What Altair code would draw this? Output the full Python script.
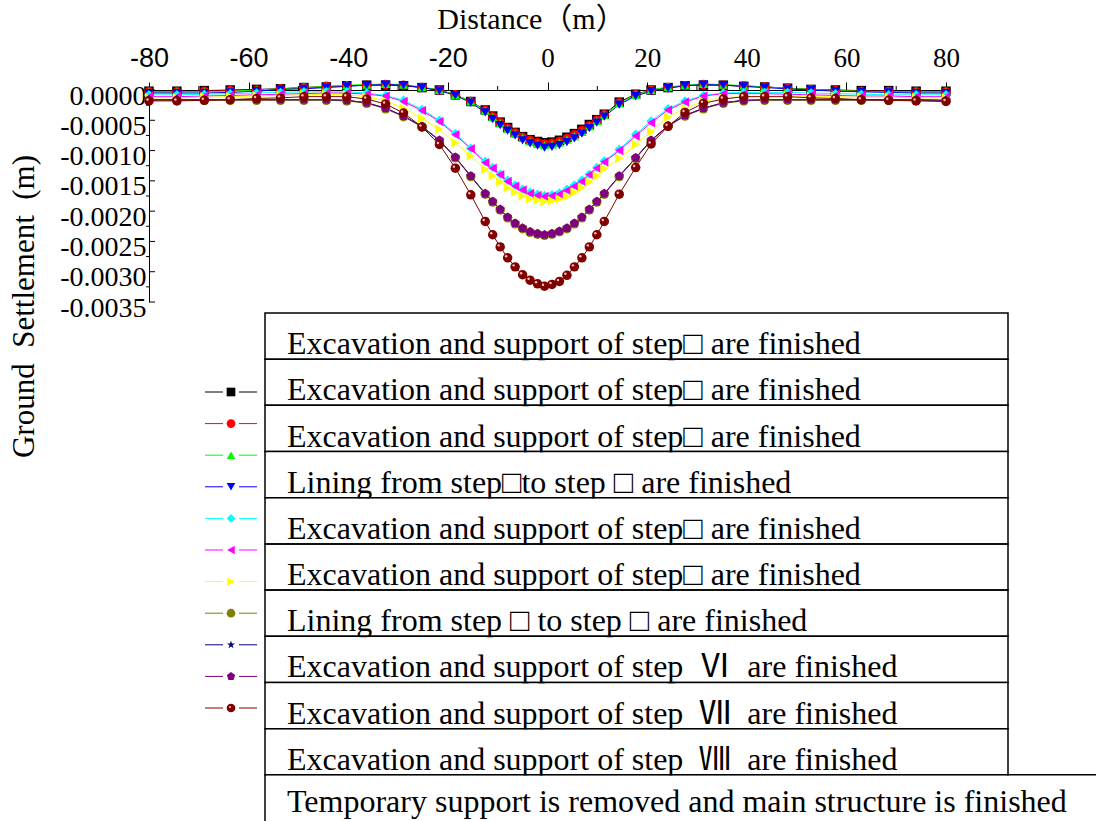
import altair as alt
import pandas as pd

# ---------------- data ----------------
DIST = [-80, -74.4, -68.9, -63.7, -58.4, -53.6, -48.9, -44.4, -40.3, -36.3, -32.5, -28.9, -25.2, -21.7, -18.5, -15.4,
        -12.5, -11.0, -9.5, -8.0, -6.5, -5.0, -3.5, -2.0, -0.6,
        0.9, 2.4, 3.9, 5.4, 6.9, 8.4, 9.9, 11.4,
        14.4, 17.7, 20.8, 24.2, 27.6, 31.3, 35.3, 39.4, 43.6, 48.2, 52.9, 57.8, 63.0, 68.5, 74.0, 80]

S01 = [-0.00002, -0.00002, -0.00001, 0.00000, 0.00001, 0.00002, 0.00004, 0.00005, 0.00007, 0.00008, 0.00008, 0.00007, 0.00004, 0.00000, -0.00008, -0.00019,
       -0.00033, -0.00043, -0.00053, -0.00062, -0.00070, -0.00077, -0.00082, -0.00085, -0.00087,
       -0.00086, -0.00083, -0.00078, -0.00072, -0.00065, -0.00057, -0.00049, -0.00040,
       -0.00020, -0.00007, 0.00000, 0.00004, 0.00007, 0.00008, 0.00008, 0.00006, 0.00005, 0.00003, 0.00001, 0.00000, -0.00001, -0.00001, -0.00002, -0.00002]
S02 = [-0.00003, -0.00003, -0.00002, -0.00001, 0.00000, 0.00002, 0.00004, 0.00006, 0.00007, 0.00008, 0.00009, 0.00008, 0.00004, 0.00000, -0.00008, -0.00019,
       -0.00034, -0.00044, -0.00054, -0.00063, -0.00071, -0.00078, -0.00083, -0.00087, -0.00089,
       -0.00088, -0.00085, -0.00080, -0.00074, -0.00067, -0.00059, -0.00050, -0.00041,
       -0.00021, -0.00008, 0.00000, 0.00004, 0.00007, 0.00009, 0.00008, 0.00007, 0.00005, 0.00003, 0.00001, -0.00001, -0.00002, -0.00002, -0.00003, -0.00003]
S03 = [-0.00003, -0.00003, -0.00003, -0.00002, 0.00000, 0.00002, 0.00004, 0.00006, 0.00008, 0.00009, 0.00010, 0.00009, 0.00005, 0.00000, -0.00008, -0.00019,
       -0.00034, -0.00045, -0.00055, -0.00064, -0.00072, -0.00079, -0.00085, -0.00089, -0.00091,
       -0.00090, -0.00087, -0.00082, -0.00076, -0.00069, -0.00060, -0.00051, -0.00041,
       -0.00022, -0.00008, 0.00000, 0.00005, 0.00008, 0.00010, 0.00009, 0.00007, 0.00005, 0.00003, 0.00001, -0.00001, -0.00002, -0.00003, -0.00003, -0.00003]
S04 = [-0.00005, -0.00005, -0.00005, -0.00004, -0.00002, 0.00001, 0.00002, 0.00004, 0.00006, 0.00008, 0.00009, 0.00008, 0.00004, -0.00001, -0.00009, -0.00021,
       -0.00037, -0.00048, -0.00058, -0.00067, -0.00075, -0.00083, -0.00088, -0.00092, -0.00095,
       -0.00094, -0.00091, -0.00086, -0.00080, -0.00072, -0.00063, -0.00054, -0.00044,
       -0.00024, -0.00010, -0.00002, 0.00003, 0.00007, 0.00009, 0.00008, 0.00006, 0.00004, 0.00002, 0.00000, -0.00002, -0.00003, -0.00004, -0.00005, -0.00005]
S05 = [-0.00008, -0.00008, -0.00007, -0.00006, -0.00005, -0.00004, -0.00003, -0.00003, -0.00003, -0.00005, -0.00009, -0.00017, -0.00032, -0.00050, -0.00072, -0.00096,
       -0.00118, -0.00128, -0.00139, -0.00149, -0.00157, -0.00164, -0.00169, -0.00172, -0.00174,
       -0.00173, -0.00170, -0.00164, -0.00157, -0.00149, -0.00139, -0.00128, -0.00117,
       -0.00098, -0.00073, -0.00051, -0.00031, -0.00018, -0.00009, -0.00005, -0.00004, -0.00004, -0.00004, -0.00005, -0.00006, -0.00007, -0.00008, -0.00008, -0.00008]
S06 = [-0.00011, -0.00011, -0.00010, -0.00009, -0.00008, -0.00007, -0.00006, -0.00005, -0.00005, -0.00007, -0.00010, -0.00019, -0.00034, -0.00052, -0.00074, -0.00097,
       -0.00120, -0.00129, -0.00140, -0.00151, -0.00159, -0.00165, -0.00171, -0.00174, -0.00176,
       -0.00175, -0.00172, -0.00166, -0.00159, -0.00151, -0.00140, -0.00129, -0.00119,
       -0.00100, -0.00076, -0.00054, -0.00033, -0.00020, -0.00010, -0.00006, -0.00006, -0.00006, -0.00007, -0.00008, -0.00009, -0.00010, -0.00010, -0.00011, -0.00011]
S07 = [-0.00013, -0.00013, -0.00012, -0.00011, -0.00010, -0.00009, -0.00008, -0.00007, -0.00008, -0.00011, -0.00018, -0.00030, -0.00047, -0.00065, -0.00087, -0.00109,
       -0.00131, -0.00142, -0.00152, -0.00162, -0.00169, -0.00175, -0.00180, -0.00182, -0.00184,
       -0.00183, -0.00180, -0.00176, -0.00169, -0.00161, -0.00152, -0.00142, -0.00130,
       -0.00113, -0.00090, -0.00069, -0.00045, -0.00030, -0.00019, -0.00013, -0.00011, -0.00010, -0.00010, -0.00011, -0.00011, -0.00012, -0.00012, -0.00013, -0.00013]
S08 = [-0.00017, -0.00017, -0.00017, -0.00017, -0.00017, -0.00017, -0.00017, -0.00017, -0.00018, -0.00022, -0.00031, -0.00044, -0.00061, -0.00084, -0.00112, -0.00143,
       -0.00172, -0.00185, -0.00198, -0.00211, -0.00221, -0.00229, -0.00235, -0.00238, -0.00240,
       -0.00238, -0.00234, -0.00229, -0.00221, -0.00211, -0.00198, -0.00185, -0.00172,
       -0.00143, -0.00113, -0.00084, -0.00060, -0.00043, -0.00031, -0.00022, -0.00018, -0.00017, -0.00017, -0.00017, -0.00017, -0.00017, -0.00017, -0.00017, -0.00018]
S09 = [-0.00016, -0.00016, -0.00016, -0.00016, -0.00016, -0.00016, -0.00016, -0.00016, -0.00017, -0.00021, -0.00030, -0.00043, -0.00060, -0.00083, -0.00111, -0.00142,
       -0.00171, -0.00184, -0.00197, -0.00210, -0.00220, -0.00228, -0.00234, -0.00237, -0.00239,
       -0.00237, -0.00233, -0.00228, -0.00220, -0.00210, -0.00197, -0.00184, -0.00171,
       -0.00142, -0.00112, -0.00083, -0.00059, -0.00042, -0.00030, -0.00021, -0.00017, -0.00016, -0.00016, -0.00016, -0.00016, -0.00016, -0.00016, -0.00016, -0.00017]
S10 = [-0.00016, -0.00016, -0.00016, -0.00016, -0.00016, -0.00016, -0.00016, -0.00016, -0.00017, -0.00021, -0.00030, -0.00043, -0.00060, -0.00083, -0.00111, -0.00142,
       -0.00171, -0.00184, -0.00197, -0.00210, -0.00220, -0.00228, -0.00234, -0.00237, -0.00239,
       -0.00237, -0.00233, -0.00228, -0.00220, -0.00210, -0.00197, -0.00184, -0.00171,
       -0.00142, -0.00112, -0.00083, -0.00059, -0.00042, -0.00030, -0.00021, -0.00017, -0.00016, -0.00016, -0.00016, -0.00016, -0.00016, -0.00016, -0.00016, -0.00017]
S11 = [-0.00018, -0.00018, -0.00017, -0.00016, -0.00014, -0.00013, -0.00011, -0.00011, -0.00011, -0.00015, -0.00023, -0.00038, -0.00061, -0.00090, -0.00129, -0.00173,
       -0.00217, -0.00239, -0.00259, -0.00277, -0.00292, -0.00305, -0.00314, -0.00320, -0.00324,
       -0.00321, -0.00316, -0.00306, -0.00292, -0.00277, -0.00259, -0.00239, -0.00217,
       -0.00172, -0.00128, -0.00089, -0.00060, -0.00037, -0.00022, -0.00015, -0.00011, -0.00011, -0.00011, -0.00013, -0.00014, -0.00016, -0.00017, -0.00018, -0.00019]

SERIES_KEYS = ["s01", "s02", "s03", "s04", "s05", "s06", "s07", "s08", "s09", "s10", "s11"]
SERIES_VALUES = [S01, S02, S03, S04, S05, S06, S07, S08, S09, S10, S11]

LEGEND_LABELS = [
    "Excavation and support of step□ are finished",
    "Excavation and support of step□ are finished",
    "Excavation and support of step□ are finished",
    "Lining from step□to step □ are finished",
    "Excavation and support of step□ are finished",
    "Excavation and support of step□ are finished",
    "Lining from step □ to step □ are finished",
    "Excavation and support of step\u00a0 Ⅵ\u00a0 are finished",
    "Excavation and support of step\u00a0 Ⅶ\u00a0 are finished",
    "Excavation and support of step\u00a0 Ⅷ\u00a0 are finished",
    "Temporary support is removed and main structure is finished",
]

X_MAJOR = [-80, -60, -40, -20, 0, 20, 40, 60, 80]
X_MINOR = [-70, -50, -30, -10, 10, 30, 50, 70]
Y_MAJOR = [0.0, -0.0005, -0.0010, -0.0015, -0.0020, -0.0025, -0.0030, -0.0035]
Y_MINOR = [-0.00025, -0.00075, -0.00125, -0.00175, -0.00225, -0.00275, -0.00325]

# ---------------- styles ----------------
COLORS = ["#000000", "#ff0000", "#00ff00", "#0000ff", "#00ffff", "#ff00ff",
          "#ffff00", "#808000", "#000080", "#800080", "#800000"]
STAR = "M0,-1L0.2245,-0.309L0.951,-0.309L0.363,0.118L0.588,0.809L0,0.382L-0.588,0.809L-0.363,0.118L-0.951,-0.309L-0.2245,-0.309Z"
PENTAGON = "M0,-1L0.951,-0.309L0.588,0.809L-0.588,0.809L-0.951,-0.309Z"
SHAPES = ["square", "circle", "triangle-up", "triangle-down", "diamond", "triangle-left",
          "triangle-right", "circle", STAR, PENTAGON, "circle"]
SERIF = "Liberation Serif, Noto Sans CJK SC"

rows = []
for key, vals in zip(SERIES_KEYS, SERIES_VALUES):
    for d, v in zip(DIST, vals):
        rows.append({"series": key, "d": d, "v": v})
df = pd.DataFrame(rows)

color_scale = alt.Scale(domain=SERIES_KEYS, range=COLORS)
shape_scale = alt.Scale(domain=SERIES_KEYS, range=SHAPES)
color_enc = alt.Color("series:N", scale=color_scale, legend=None)
shape_enc = alt.Shape("series:N", scale=shape_scale, legend=None)

x_axis = alt.Axis(
    orient="top", values=X_MAJOR, tickSize=8, tickColor="black", domainColor="black",
    labelExpr="(datum.value < 0 ? '-' : '') + abs(datum.value)",
    labelFont={"condition": {"test": "datum.value < 0", "value": "Liberation Sans"}, "value": "Liberation Serif"},
    labelFontSize=27, labelColor="black", labelPadding=10, labelFlush=False,
    title="Distance（m）", titleFont=SERIF, titleFontSize=30, titleFontWeight="normal",
    titleColor="black", titleX=382, titleY=-62, titleAlign="center", titleBaseline="alphabetic",
    grid=False,
)
y_axis = alt.Axis(
    values=Y_MAJOR, ticks=False, tickSize=0, domainColor="black",
    labelExpr="(datum.value < 0 ? '-' : '') + format(abs(datum.value), '.4f')",
    labelFont="Liberation Serif", labelFontSize=28, labelColor="black", labelPadding=3,
    labelOffset=6, labelFlush=False,
    title="Ground\u00a0 Settlement\u00a0 (m)", titleFont=SERIF, titleFontSize=31, titleFontWeight="normal",
    titleColor="black", titleAngle=270, titleX=-125, titleY=216, titleAlign="center",
    titleBaseline="middle", grid=False,
)
x_enc = alt.X("d:Q", scale=alt.Scale(domain=[-80, 80], nice=False, zero=False), axis=x_axis)
y_enc = alt.Y("v:Q", scale=alt.Scale(domain=[-0.0035, 0], nice=False, zero=False), axis=y_axis)

base = alt.Chart(df)
lines = base.mark_line(strokeWidth=1, clip=False).encode(x=x_enc, y=y_enc, color=color_enc)
points = base.mark_point(filled=True, opacity=1, size=90, clip=False).encode(
    x=x_enc, y=y_enc, color=color_enc, shape=shape_enc)
shine = base.transform_filter("datum.series === 's11'").mark_point(
    filled=True, shape="circle", size=6, color="#f0c0c0", opacity=1, xOffset=-1.5, yOffset=-1.5
).encode(x=x_enc, y=y_enc)

ymaj = alt.Chart(pd.DataFrame({"v": Y_MAJOR})).mark_rule(color="black", strokeWidth=1).encode(
    y=y_enc, x=alt.value(0), x2=alt.value(6))
ymin = alt.Chart(pd.DataFrame({"v": Y_MINOR})).mark_rule(color="black", strokeWidth=1).encode(
    y=y_enc, x=alt.value(-3), x2=alt.value(0))
xmin = alt.Chart(pd.DataFrame({"d": X_MINOR})).mark_rule(color="black", strokeWidth=1).encode(
    x=x_enc, y=alt.value(-4), y2=alt.value(0))

main = alt.layer(lines, points, shine, ymaj, ymin, xmin)

# ---------------- legend ----------------
leg_df = pd.DataFrame({"series": SERIES_KEYS, "row": list(range(len(SERIES_KEYS))), "label": LEGEND_LABELS})
leg = alt.Chart(leg_df)
sym_y = alt.Y("row:Q", scale=alt.Scale(domain=[0, 10], range=[302, 618], nice=False, zero=False), axis=None)
leg_l = leg.mark_rule(strokeWidth=1).encode(y=sym_y, x=alt.value(56), x2=alt.value(74), color=color_enc)
leg_r = leg.mark_rule(strokeWidth=1).encode(y=sym_y, x=alt.value(90), x2=alt.value(108), color=color_enc)
leg_s = leg.mark_point(filled=True, opacity=1, size=75).encode(y=sym_y, x=alt.value(82), color=color_enc, shape=shape_enc)
leg_shine = leg.transform_filter("datum.series === 's11'").mark_point(
    filled=True, shape="circle", size=4, color="#f0c0c0", opacity=1, xOffset=-1, yOffset=-1
).encode(y=sym_y, x=alt.value(82))
sym_layer = alt.layer(leg_l, leg_r, leg_s, leg_shine)

box_scale = alt.Scale(domain=[0, 11], range=[223, 731], nice=False, zero=False)
boxes_base = leg.transform_calculate(row_end="datum.row + 1")
box_a = boxes_base.transform_filter("datum.row < 10").mark_rect(
    fillOpacity=0, stroke="black", strokeWidth=1.5).encode(
    y=alt.Y("row:Q", scale=box_scale, axis=None), y2="row_end:Q", x=alt.value(116), x2=alt.value(859))
box_b = boxes_base.transform_filter("datum.row >= 10").mark_rect(
    fillOpacity=0, stroke="black", strokeWidth=1.5, y2Offset=6).encode(
    y=alt.Y("row:Q", scale=box_scale, axis=None), y2="row_end:Q", x=alt.value(116), x2=alt.value(950))
texts_a = boxes_base.transform_filter("datum.row < 10").mark_text(
    align="left", baseline="alphabetic", dy=-5, font=SERIF, fontSize=32, color="black").encode(
    y=alt.Y("row_end:Q", scale=box_scale, axis=None), x=alt.value(138), text="label:N")
texts_b = boxes_base.transform_filter("datum.row >= 10").mark_text(
    align="left", baseline="alphabetic", dy=-9, font=SERIF, fontSize=32, color="black").encode(
    y=alt.Y("row_end:Q", scale=box_scale, axis=None), x=alt.value(138), text="label:N")
masks = boxes_base.transform_filter("datum.row < 10").mark_rect(
    fill="white", yOffset=1, y2Offset=8).encode(
    y=alt.Y("row_end:Q", scale=box_scale, axis=None), y2="row_end:Q", x=alt.value(117.5), x2=alt.value(858))
box_layer = alt.layer(box_a, box_b, texts_a, texts_b, masks)

chart = alt.layer(main, sym_layer, box_layer).resolve_scale(y="independent").properties(
    width=797, height=212,
    autosize=alt.AutoSizeParams(type="none"),
    padding={"left": 149, "top": 90, "right": 150, "bottom": 519},
    background="white",
).configure_view(stroke=None).configure_axis(
    labelFont="Liberation Serif", titleFont=SERIF, titleFontWeight="normal"
)

chart.save("out.html", embed_options={"renderer": "svg", "actions": False})
